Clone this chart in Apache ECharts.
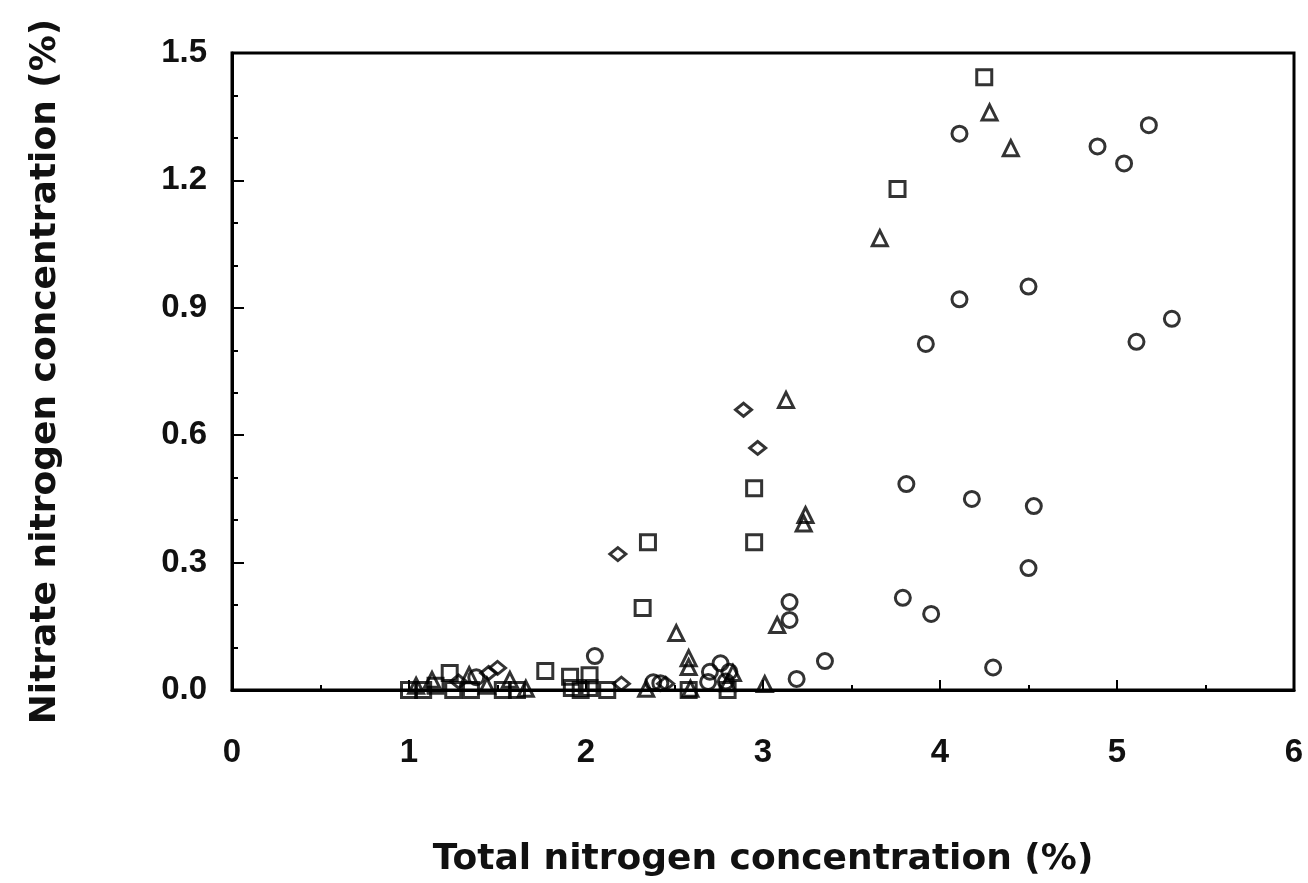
<!DOCTYPE html>
<html>
<head>
<meta charset="utf-8">
<script src="https://cdn.jsdelivr.net/npm/echarts@6/dist/echarts.min.js"></script>
<style>html,body{margin:0;padding:0;background:#fff}#chart{width:1308px;height:883px}</style>
</head>
<body>
<div id="chart"></div>
<script>
// Total N (%), Nitrate N (%)
const circles = [
  [4.11,1.31],[4.89,1.28],[5.04,1.24],[5.18,1.33],
  [3.92,0.815],[4.11,0.92],[4.50,0.95],[5.31,0.874],[5.11,0.82],
  [3.81,0.485],[4.18,0.45],[4.53,0.433],[4.50,0.287],[3.79,0.217],[3.95,0.179],
  [4.30,0.053],[3.35,0.068],[3.19,0.026],[3.15,0.207],[3.15,0.165],
  [2.05,0.08],[2.76,0.063],[2.70,0.043],[2.81,0.043],[2.69,0.019],[2.79,0.02],
  [2.38,0.018],[2.42,0.016],[1.38,0.03]
];
const squares = [
  [4.25,1.443],[3.76,1.18],[2.95,0.475],[2.95,0.348],[2.35,0.348],[2.32,0.193],
  [1.77,0.045],[1.91,0.031],[2.02,0.035],[1.92,0.005],[2.02,0.005],[1.97,0.0],
  [1.23,0.04],[1.0,0.0],[1.08,0.0],[1.25,0.0],[1.35,0.0],[1.53,0.0],[1.61,0.0],[1.15,0.01],
  [2.58,0.0],[2.12,0.0],[2.80,0.0]
];
const triangles = [
  [4.28,1.36],[4.40,1.276],[3.66,1.064],[3.13,0.683],[3.24,0.412],[3.23,0.392],
  [2.51,0.134],[2.58,0.075],[2.58,0.054],[3.01,0.014],[3.08,0.153],[2.80,0.016],[2.83,0.04],
  [1.34,0.035],[1.57,0.024],[1.13,0.024],[2.34,0.003],[2.59,0.003],[1.66,0.003],[1.04,0.01],[1.44,0.01]
];
const diamonds = [
  [2.89,0.66],[2.97,0.57],[2.18,0.32],[1.50,0.052],[1.45,0.04],[2.20,0.015],[1.28,0.02],[2.45,0.015]
];
const xTicks = [0,1,2,3,4,5,6];
const yTicks = [0.0,0.3,0.6,0.9,1.2,1.5];

const chart = echarts.init(document.getElementById('chart'));
const mk = (name, data, symbol, size) => ({
  name, type: 'scatter', data, symbol, symbolSize: size,
  itemStyle: { color: 'rgba(255,255,255,0)', borderColor: '#000', borderWidth: 3 },
  emphasis: { disabled: true }
});
chart.setOption({
  backgroundColor: '#fff',
  animation: false,
  grid: { left: 232, right: 14, top: 53, bottom: 193, show: true, borderColor: '#000', borderWidth: 3 },
  xAxis: {
    type: 'value', min: xTicks[0], max: xTicks[xTicks.length-1], interval: 1,
    name: 'Total nitrogen concentration (%)', nameLocation: 'middle', nameGap: 152,
    nameTextStyle: { fontFamily: 'DejaVu Sans', fontWeight: 'bold', fontSize: 36, color: '#111' },
    axisLine: { lineStyle: { color: '#000', width: 3 } },
    axisTick: { inside: true, length: 10, lineStyle: { color: '#000', width: 2 } },
    minorTick: { show: true, splitNumber: 2, length: 5, lineStyle: { color: '#000', width: 2 } },
    splitLine: { show: false },
    axisLabel: { margin: 46, fontFamily: 'Liberation Sans', fontWeight: 'bold', fontSize: 33, color: '#111' }
  },
  yAxis: {
    type: 'value', min: yTicks[0], max: yTicks[yTicks.length-1], interval: 0.3,
    name: 'Nitrate nitrogen concentration (%)', nameLocation: 'middle', nameGap: 168,
    nameTextStyle: { fontFamily: 'DejaVu Sans', fontWeight: 'bold', fontSize: 36, color: '#111' },
    axisLine: { show: true, lineStyle: { color: '#000', width: 3 } },
    axisTick: { show: true, inside: true, length: 12, lineStyle: { color: '#000', width: 2 } },
    minorTick: { show: true, splitNumber: 3, length: 6, lineStyle: { color: '#000', width: 2 } },
    splitLine: { show: false },
    axisLabel: { margin: 25, fontFamily: 'Liberation Sans', fontWeight: 'bold', fontSize: 33, color: '#111',
      formatter: v => v.toFixed(1) }
  },
  series: [
    mk('circles', circles, 'circle', 15),
    mk('squares', squares, 'rect', 15),
    mk('triangles', triangles, 'triangle', 15),
    mk('diamonds', diamonds, 'diamond', [16, 13])
  ]
});
</script>
</body>
</html>
